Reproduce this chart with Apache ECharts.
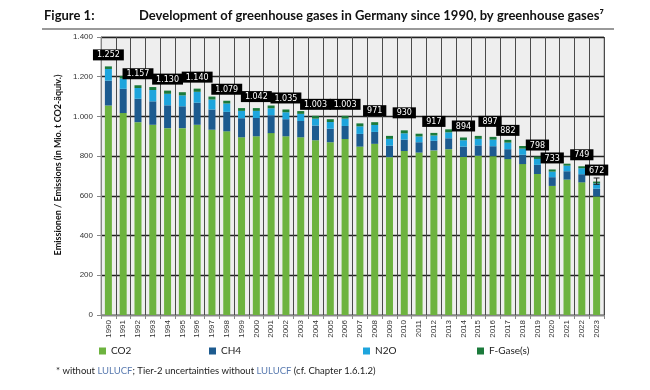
<!DOCTYPE html>
<html>
<head>
<meta charset="utf-8">
<script src="https://cdn.jsdelivr.net/npm/echarts@6/dist/echarts.min.js"></script>
<style>
html,body{margin:0;padding:0;background:#fff;}
#chart{width:650px;height:390px;}
</style>
</head>
<body>
<div id="chart"></div>
<script>
const years = ['1990','1991','1992','1993','1994','1995','1996','1997','1998','1999','2000','2001','2002','2003','2004','2005','2006','2007','2008','2009','2010','2011','2012','2013','2014','2015','2016','2017','2018','2019','2020','2021','2022','2023'];
const co2 = [1055,1017,971,958,941,941,958,933,925,895,900,916,900,895,880,870,886,848,862,795,826,818,829,835,796,802,800,785,760,710,650,682,668,597];
const ch4 = [125,122,118,118,115,110,111,102,98,96,92,90,86,82,74,68,66,64,60,58,57,52,48,55,52,52,50,50,47,46,44,42,41,39];
const n2o = [59,52,54,57,58,55,55,50,42,37,36,35,35,36,35,34,37,38,35,34,32,29,27,30,32,33,33,33,31,30,28,28,30,27];
const fgas = [13,13,14,15,16,16,16,15,14,14,14,14,14,14,14,14,14,15,14,15,15,14,13,15,14,15,14,14,13,12,11,10,10,9];
const totalLabels = ['1.252',null,'1.157',null,'1.130',null,'1.140',null,'1.079',null,'1.042',null,'1.035',null,'1.003',null,'1.003',null,'971',null,'930',null,'917',null,'894',null,'897','882',null,'798','733',null,'749','672'];
const uncertaintyYear = '2023';
const uncertaintyRange = [658, 690];
const yTicks = [0,200,400,600,800,1000,1200,1400];

const chart = echarts.init(document.getElementById('chart'), null, {renderer:'canvas'});
const fmt = v => String(v).replace(/\B(?=(\d{3})+(?!\d))/g, '.');
// small manual nudges of individual label boxes, as in the original figure
const labelNudge = {20: [0,-6], 26: [-3,-4], 27: [0,2]};

const fgasData = fgas.map((v,i) => ({
  value: v,
  label: totalLabels[i] ? {
    show: true, position: 'top', distance: 6,
    offset: labelNudge[i] || [0,0],
    formatter: totalLabels[i],
    color: '#fff', backgroundColor: '#000', fontSize: 8,
    fontFamily: 'DejaVu Sans', padding: [2,4,1,4]
  } : {show:false}
}));

const barW = 7;
const option = {
  animation: false,
  backgroundColor: '#fff',
  grid: {left: 101, right: 46, top: 37, bottom: 75, show: true, backgroundColor: '#eeeeee', borderColor: '#999', borderWidth: 1},
  legend: [
    {data:['CO2'], left: 94, top: 341},
    {data:['CH4'], left: 204, top: 341},
    {data:['N2O'], left: 358, top: 341},
    {data:['F-Gase(s)'], left: 472, top: 341}
  ].map(l => Object.assign(l, {itemWidth: 7, itemHeight: 7, icon: 'rect', textStyle: {fontSize: 10, color: '#222', fontFamily: 'Lato'}})),
  xAxis: {
    type: 'category', data: years,
    axisLine: {lineStyle: {color: '#888'}},
    axisTick: {show: true, length: 4, lineStyle: {color: '#888'}},
    axisLabel: {rotate: 90, fontSize: 8, color: '#333', fontFamily: 'Liberation Sans', margin: 5},
    splitLine: {show: true, lineStyle: {color: '#4a4a4a', width: 1}}
  },
  yAxis: {
    type: 'value', min: 0, max: 1400, interval: 200,
    axisLine: {show: true, lineStyle: {color: '#888'}},
    axisTick: {show: true, length: 4, lineStyle: {color: '#888'}},
    axisLabel: {fontSize: 8, color: '#333', fontFamily: 'Liberation Sans', margin: 8, formatter: v => yTicks.includes(v) ? fmt(v) : ''},
    splitLine: {show: true, lineStyle: {color: '#222', width: 1.3}}
  },
  series: [
    {name: 'CO2', type: 'bar', stack: 't', data: co2, barWidth: barW, itemStyle: {color: '#6db33f'}},
    {name: 'CH4', type: 'bar', stack: 't', data: ch4, barWidth: barW, itemStyle: {color: '#1d5b8f'}},
    {name: 'N2O', type: 'bar', stack: 't', data: n2o, barWidth: barW, itemStyle: {color: '#1ea5dd'}},
    {name: 'F-Gase(s)', type: 'bar', stack: 't', data: fgasData, barWidth: barW, itemStyle: {color: '#1b7a3b'}},
    {
      type: 'custom', name: 'uncertainty', z: 10,
      data: [[uncertaintyYear, uncertaintyRange[0], uncertaintyRange[1]]],
      renderItem: function(params, api) {
        const lo = api.coord([api.value(0), api.value(1)]);
        const hi = api.coord([api.value(0), api.value(2)]);
        const x = lo[0], c = 3;
        const st = {stroke: '#222', lineWidth: 1};
        return {type: 'group', children: [
          {type: 'line', shape: {x1: x, y1: lo[1], x2: x, y2: hi[1]}, style: st},
          {type: 'line', shape: {x1: x-c, y1: lo[1], x2: x+c, y2: lo[1]}, style: st},
          {type: 'line', shape: {x1: x-c, y1: hi[1], x2: x+c, y2: hi[1]}, style: st}
        ]};
      }
    }
  ],
  graphic: [
    {type: 'text', left: 44, top: 9, style: {text: 'Figure 1:', font: 'bold 13px Lato', fill: '#111'}},
    {type: 'text', left: 139, top: 9, style: {text: 'Development of greenhouse gases in Germany since 1990, by greenhouse gases⁷', font: 'bold 13px Lato', fill: '#111'}},
    {type: 'line', shape: {x1: 42, y1: 29, x2: 614, y2: 29}, style: {stroke: '#999', lineWidth: 2}},
    {type: 'text', x: 58, y: 165, rotation: Math.PI/2, style: {text: 'Emissionen / Emissions (in Mio. t CO2-äquiv.)', font: 'bold 9px Lato', fill: '#111', align: 'center', verticalAlign: 'middle'}},
    {type: 'text', left: 56, top: 366, style: {
      text: '{a|* without }{b|LULUCF}{a|; Tier-2 uncertainties without }{b|LULUCF}{a| (cf. Chapter 1.6.1.2)}',
      rich: {a: {font: '9.5px Lato', fill: '#222'}, b: {font: '9.5px Lato', fill: '#5a7bb0'}}
    }}
  ]
};
chart.setOption(option);
</script>
</body>
</html>
